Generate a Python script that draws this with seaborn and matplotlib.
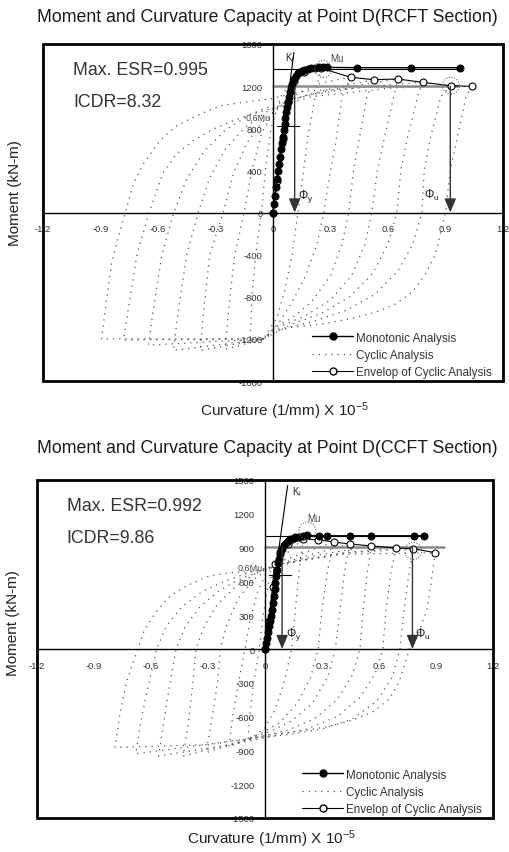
import matplotlib
matplotlib.use("Agg")
import matplotlib.pyplot as plt
from matplotlib.lines import Line2D
from matplotlib.patches import Rectangle
import seaborn as sns

# ---------------- RCFT section (top panel) ----------------
rcft_mono_x = [0, 0.005, 0.01, 0.015, 0.02, 0.025, 0.03, 0.035, 0.04, 0.045, 0.05, 0.055, 0.06,
               0.065, 0.07, 0.075, 0.08, 0.085, 0.09, 0.095, 0.10, 0.11, 0.12, 0.13, 0.14, 0.15,
               0.16, 0.18, 0.20, 0.22, 0.24, 0.26, 0.28, 0.44, 0.72, 0.977]
rcft_mono_y = [0, 80, 160, 240, 320, 390, 460, 530, 600, 660, 720, 780, 840, 900, 950, 1000,
               1050, 1100, 1140, 1180, 1220, 1270, 1300, 1320, 1335, 1345, 1352, 1362, 1370,
               1375, 1378, 1379, 1378, 1375, 1375, 1375]
rcft_env_x = [0, 0.02, 0.05, 0.08, 0.11, 0.16, 0.25, 0.405, 0.527, 0.65, 0.78, 0.928, 1.036]
rcft_env_y = [0, 300, 700, 1050, 1250, 1330, 1370, 1284, 1261, 1268, 1236, 1204, 1198]
rcft_cyc_x = [
    [0.25, 0.22, 0.18, 0.16, 0.13, 0.10, 0.06, 0.02, -0.05, -0.12,
     -0.11, -0.09, -0.06, -0.04, -0.01, 0.04, 0.12, 0.25],
    [0.405, 0.36, 0.33, 0.30, 0.265, 0.23, 0.17, 0.10, 0.03, -0.05, -0.25,
     -0.23, -0.20, -0.15, -0.11, -0.06, 0.0, 0.1, 0.25, 0.405],
    [0.527, 0.49, 0.45, 0.42, 0.395, 0.36, 0.30, 0.20, 0.10, 0.02, -0.05, -0.38,
     -0.36, -0.33, -0.26, -0.21, -0.14, -0.06, 0.02, 0.15, 0.35, 0.527],
    [0.65, 0.63, 0.58, 0.545, 0.515, 0.48, 0.41, 0.30, 0.17, 0.05, -0.05, -0.52,
     -0.494, -0.45, -0.39, -0.33, -0.25, -0.15, -0.04, 0.1, 0.35, 0.65],
    [0.78, 0.754, 0.70, 0.667, 0.646, 0.60, 0.52, 0.40, 0.25, 0.10, -0.05, -0.65,
     -0.625, -0.58, -0.517, -0.45, -0.36, -0.25, -0.12, 0.0, 0.2, 0.5, 0.78],
    [0.928, 0.876, 0.82, 0.789, 0.777, 0.73, 0.65, 0.53, 0.38, 0.20, 0.05, -0.05, -0.78,
     -0.756, -0.71, -0.646, -0.573, -0.503, -0.416, -0.311, -0.207, -0.102, 0.0, 0.2, 0.6, 0.928],
    [1.036, 1.007, 0.96, 0.925, 0.90, 0.848, 0.796, 0.726, 0.639, 0.534, 0.40, 0.25, 0.10, 0.0,
     -0.05, -0.895, -0.869, -0.843, -0.808, -0.773, -0.729, -0.677, -0.59, -0.503, -0.398,
     -0.276, -0.154, -0.015, 0.15, 0.5, 1.036],
]
rcft_cyc_y = [
    [1370, 1100, 700, 400, 0, -400, -750, -1000, -1200, -1250,
     -800, -400, 0, 400, 800, 1100, 1300, 1370],
    [1285, 1100, 700, 400, 0, -300, -600, -850, -1050, -1200, -1300,
     -900, -400, 0, 400, 750, 950, 1100, 1230, 1285],
    [1260, 1100, 700, 400, 0, -300, -600, -850, -1000, -1080, -1200, -1310,
     -900, -400, 0, 350, 650, 850, 980, 1100, 1200, 1260],
    [1268, 1100, 700, 400, 0, -300, -600, -830, -980, -1070, -1200, -1310,
     -930, -400, 0, 330, 600, 800, 950, 1080, 1180, 1268],
    [1236, 1100, 700, 400, 0, -300, -580, -800, -960, -1060, -1200, -1260,
     -930, -400, 0, 320, 580, 780, 930, 1020, 1120, 1200, 1236],
    [1204, 1100, 700, 400, 0, -300, -560, -780, -930, -1040, -1100, -1200, -1210,
     -930, -400, 0, 381, 556, 682, 793, 872, 940, 990, 1100, 1180, 1204],
    [1198, 1100, 700, 400, 0, -394, -584, -758, -869, -948, -1010, -1060, -1090, -1130,
     -1200, -1200, -837, -489, -236, -14, 270, 460, 682, 824, 919, 1014, 1046, 1078,
     1150, 1190, 1198],
]
rcft_ki_x = [0.0, 0.109]
rcft_ki_y = [0, 1520]
rcft_mu_line = 1365
rcft_my_line = 1200
rcft_line_end = 0.97
rcft_06mu = 820
rcft_phi_y = 0.113
rcft_phi_u = 0.925
rcft_mu_circle = (0.262, 1362)
rcft_phiu_circle = (0.928, 1204)
rcft_esr = "Max. ESR=0.995"
rcft_icdr = "ICDR=8.32"
rcft_yticks = [-1600, -1200, -800, -400, 0, 400, 800, 1200, 1600]

# ---------------- CCFT section (bottom panel) ----------------
ccft_mono_x = [0, 0.005, 0.01, 0.015, 0.02, 0.025, 0.03, 0.035, 0.04, 0.045, 0.05, 0.055, 0.06,
               0.065, 0.07, 0.075, 0.08, 0.09, 0.10, 0.11, 0.12, 0.13, 0.14, 0.16, 0.18, 0.20,
               0.22, 0.283, 0.326, 0.447, 0.56, 0.784, 0.836]
ccft_mono_y = [0, 50, 100, 150, 200, 250, 290, 350, 410, 470, 530, 590, 650, 700, 760, 800,
               840, 890, 920, 945, 960, 972, 980, 990, 997, 1003, 1008, 1005, 1005, 1005,
               1005, 1005, 1005]
ccft_env_x = [0, 0.02, 0.04, 0.05, 0.08, 0.12, 0.20, 0.28, 0.361, 0.447, 0.56, 0.69, 0.78, 0.896]
ccft_env_y = [0, 250, 550, 754, 860, 930, 975, 970, 950, 932, 915, 896, 890, 855]
ccft_cyc_x = [
    [0.2, 0.18, 0.16, 0.14, 0.10, 0.05, 0.0, -0.05, -0.09,
     -0.08, -0.06, -0.03, -0.01, 0.02, 0.08, 0.2],
    [0.361, 0.33, 0.30, 0.28, 0.24, 0.17, 0.08, 0.0, -0.08, -0.19,
     -0.17, -0.14, -0.105, -0.08, -0.04, 0.0, 0.1, 0.2, 0.361],
    [0.447, 0.42, 0.395, 0.37, 0.33, 0.25, 0.14, 0.03, -0.1, -0.31,
     -0.278, -0.25, -0.235, -0.2, -0.14, -0.06, 0.05, 0.2, 0.447],
    [0.56, 0.54, 0.517, 0.50, 0.46, 0.38, 0.26, 0.12, 0.0, -0.15, -0.43,
     -0.399, -0.38, -0.364, -0.32, -0.25, -0.15, -0.04, 0.1, 0.3, 0.56],
    [0.69, 0.665, 0.637, 0.62, 0.58, 0.50, 0.38, 0.22, 0.05, -0.15, -0.56,
     -0.528, -0.50, -0.468, -0.42, -0.34, -0.24, -0.12, 0.0, 0.2, 0.45, 0.69],
    [0.78, 0.76, 0.732, 0.71, 0.67, 0.59, 0.46, 0.30, 0.12, -0.05, -0.68,
     -0.649, -0.61, -0.57, -0.52, -0.44, -0.33, -0.2, -0.08, 0.1, 0.4, 0.78],
    [0.896, 0.875, 0.853, 0.80, 0.76, 0.739, 0.705, 0.653, 0.566, 0.463, 0.325, 0.187, 0.048,
     -0.1, -0.3, -0.79, -0.765, -0.73, -0.67, -0.636, -0.575, -0.497, -0.411, -0.29, -0.169,
     -0.048, 0.1, 0.4, 0.896],
]
ccft_cyc_y = [
    [975, 700, 350, 0, -300, -550, -700, -760, -820,
     -600, -300, 0, 300, 600, 800, 975],
    [950, 700, 355, 0, -250, -480, -650, -730, -790, -870,
     -600, -300, 0, 250, 500, 650, 790, 850, 950],
    [932, 700, 355, 0, -250, -480, -640, -730, -810, -920,
     -600, -300, 0, 220, 450, 620, 740, 820, 932],
    [915, 700, 355, 0, -230, -450, -620, -720, -770, -830, -950,
     -600, -300, 0, 200, 400, 560, 680, 760, 840, 915],
    [896, 700, 355, 0, -220, -430, -600, -710, -770, -840, -950,
     -600, -300, 0, 200, 380, 520, 630, 700, 790, 860, 896],
    [890, 700, 355, 0, -250, -460, -620, -710, -760, -790, -930,
     -600, -300, 0, 200, 370, 510, 610, 680, 760, 850, 890],
    [855, 600, 355, 100, 0, -118, -296, -444, -560, -630, -690, -730, -755,
     -800, -850, -873, -592, -296, 0, 162, 326, 473, 562, 651, 680, 690, 760, 840, 855],
]
ccft_ki_x = [0.0, 0.119]
ccft_ki_y = [0, 1450]
ccft_mu_line = 1000
ccft_my_line = 903
ccft_line_end = 0.85
ccft_my_end = 0.94
ccft_06mu = 660
ccft_phi_y = 0.09
ccft_phi_u = 0.776
ccft_mu_circle = (0.223, 1050)
ccft_phiu_circle = (0.78, 870)
ccft_esr = "Max. ESR=0.992"
ccft_icdr = "ICDR=9.86"
ccft_yticks = [-1500, -1200, -900, -600, -300, 0, 300, 600, 900, 1200, 1500]

xticks = [-1.2, -0.9, -0.6, -0.3, 0, 0.3, 0.6, 0.9, 1.2]
xtick_labels = ["-1.2", "-0.9", "-0.6", "-0.3", "0", "0.3", "0.6", "0.9", "1.2"]

sns.set_style("white")
plt.rcParams["font.family"] = ["Liberation Sans", "DejaVu Sans"]
plt.rcParams["mathtext.fontset"] = "custom"
plt.rcParams["mathtext.rm"] = "Liberation Sans"
plt.rcParams["mathtext.it"] = "Liberation Sans"
plt.rcParams["mathtext.default"] = "regular"

CYC_COLOR = "#555555"
TXT = "#222222"


def draw_panel(ax, mono_x, mono_y, env_x, env_y, cyc_x, cyc_y, ki_x, ki_y,
               mu_line, my_line, line_end, my_end, m06, m06_lbl_y, phi_y, phi_u,
               mu_circle, phiu_circle, esr, icdr, yticks, ylim, xlim,
               ki_lbl, mu_lbl, phiy_lbl, phiu_lbl, ylab_pos, xlab_pos):
    # cyclic hysteresis loops (dotted)
    for lx, ly in zip(cyc_x, cyc_y):
        sns.lineplot(x=lx, y=ly, sort=False, estimator=None, ax=ax, color=CYC_COLOR,
                     lw=0.9, linestyle=(0, (1, 4)), zorder=1)

    # idealised lines
    ax.plot([0, my_end], [my_line, my_line], color="#8a8a8a", lw=1.8, zorder=2)
    ax.plot([0, line_end], [mu_line, mu_line], color="black", lw=0.8, zorder=2)
    ax.plot(ki_x, ki_y, color="black", lw=0.8, zorder=4)
    ax.plot([0.02, 0.135], [m06, m06], color="black", lw=0.8, zorder=4)

    # envelope and monotonic curves
    sns.lineplot(x=env_x, y=env_y, sort=False, estimator=None, ax=ax, color="black",
                 lw=0.8, marker="o", markersize=5, markerfacecolor="white",
                 markeredgecolor="black", markeredgewidth=0.8, zorder=3)
    sns.lineplot(x=mono_x, y=mono_y, sort=False, estimator=None, ax=ax, color="black",
                 lw=1.0, marker="o", markersize=5, markerfacecolor="black",
                 markeredgecolor="black", zorder=5)

    # dotted circles around Mu and phi_u points
    ax.scatter([mu_circle[0], phiu_circle[0]], [mu_circle[1], phiu_circle[1]], s=150,
               facecolors="none", edgecolors="#666666", linewidths=0.8,
               linestyle=(0, (1, 1.5)), zorder=6)

    # curvature arrows
    for px in (phi_y, phi_u):
        ax.annotate("", xy=(px, 0), xytext=(px, my_line),
                    arrowprops=dict(arrowstyle="-|>,head_length=0.6,head_width=0.25",
                                    color="#333333", lw=1.0, mutation_scale=14,
                                    shrinkA=0, shrinkB=0), zorder=6)

    ax.text(ki_lbl[0], ki_lbl[1], r"$K_i$", fontsize=7, color=TXT, ha="left", va="center")
    ax.text(mu_lbl[0], mu_lbl[1], "Mu", fontsize=7, color="#444444", ha="left", va="center")
    ax.text(-0.01, m06_lbl_y, "0.6Mu", fontsize=6.5, color="#444444", ha="right", va="center")
    ax.text(phiy_lbl[0], phiy_lbl[1], r"$\Phi_y$", fontsize=8.5, color=TXT, ha="left", va="center")
    ax.text(phiu_lbl[0], phiu_lbl[1], r"$\Phi_u$", fontsize=8.5, color=TXT, ha="left", va="center")

    ax.text(0.065, 0.925, esr, transform=ax.transAxes, fontsize=12.8, color="#333333",
            ha="left", va="center")
    ax.text(0.065, 0.83, icdr, transform=ax.transAxes, fontsize=12.8, color="#333333",
            ha="left", va="center")

    # axes through the origin, thick outer frame
    ax.set_xlim(*xlim)
    ax.set_ylim(*ylim)
    for s in ("top", "right"):
        ax.spines[s].set_visible(False)
    ax.spines["left"].set_position(("data", 0))
    ax.spines["bottom"].set_position(("data", 0))
    for s in ("left", "bottom"):
        ax.spines[s].set_color("black")
        ax.spines[s].set_linewidth(1.0)
    ax.add_patch(Rectangle((0, 0), 1, 1, transform=ax.transAxes, fill=False,
                           edgecolor="black", lw=2.0, clip_on=False, zorder=10))
    ax.set_xticks(xticks)
    ax.set_xticklabels(xtick_labels)
    ax.set_yticks(yticks)
    ax.set_yticklabels([str(v) for v in yticks])
    ax.tick_params(axis="both", direction="inout", length=3, width=0.8,
                   labelsize=6.8, labelcolor="#333333", colors="#333333")
    ax.tick_params(axis="x", pad=7)
    ax.tick_params(axis="y", pad=6)
    for lbl in ax.get_xticklabels() + ax.get_yticklabels():
        lbl.set_zorder(7)

    ax.set_ylabel("Moment (kN-m)", fontsize=11, color=TXT)
    ax.yaxis.set_label_coords(*ylab_pos)
    ax.set_xlabel(r"Curvature (1/mm) X 10$^{-5}$", fontsize=11, color=TXT)
    ax.xaxis.set_label_coords(*xlab_pos)

    handles = [
        Line2D([], [], color="black", lw=1.0, marker="o", markersize=5),
        Line2D([], [], color=CYC_COLOR, lw=0.9, linestyle=(0, (1, 4))),
        Line2D([], [], color="black", lw=0.8, marker="o", markersize=5,
               markerfacecolor="white"),
    ]
    labels = ["Monotonic Analysis", "Cyclic Analysis", "Envelop of Cyclic Analysis"]
    leg = ax.legend(handles, labels, loc="lower right", bbox_to_anchor=(0.985, -0.005),
                    frameon=False, fontsize=8.4, handlelength=3.5, handletextpad=0.2,
                    labelspacing=0.45, borderaxespad=0.0)
    for t in leg.get_texts():
        t.set_color("#333333")


fig = plt.figure(figsize=(5.09, 8.53), dpi=100)
ax1 = fig.add_axes([43 / 509, 1 - 382 / 853, 460 / 509, 337 / 853])
ax2 = fig.add_axes([37 / 509, 1 - 819 / 853, 456 / 509, 338 / 853])

draw_panel(ax1, rcft_mono_x, rcft_mono_y, rcft_env_x, rcft_env_y, rcft_cyc_x, rcft_cyc_y,
           rcft_ki_x, rcft_ki_y, rcft_mu_line, rcft_my_line, rcft_line_end, 0.96,
           rcft_06mu, 900, rcft_phi_y, rcft_phi_u, rcft_mu_circle, rcft_phiu_circle,
           rcft_esr, rcft_icdr, rcft_yticks, (-1600, 1600), (-1.2, 1.2),
           (0.065, 1475), (0.30, 1467), (0.128, 160), (0.79, 175),
           (-0.046, 0.56), (0.525, -0.056))

draw_panel(ax2, ccft_mono_x, ccft_mono_y, ccft_env_x, ccft_env_y, ccft_cyc_x, ccft_cyc_y,
           ccft_ki_x, ccft_ki_y, ccft_mu_line, ccft_my_line, ccft_line_end, ccft_my_end,
           ccft_06mu, 720, ccft_phi_y, ccft_phi_u, ccft_mu_circle, ccft_phiu_circle,
           ccft_esr, ccft_icdr, ccft_yticks, (-1500, 1500), (-1.165, 1.2),
           (0.14, 1405), (0.22, 1160), (0.11, 140), (0.79, 140),
           (-0.037, 0.58), (0.515, -0.027))

fig.text(0.525, 0.980, "Moment and Curvature Capacity at Point D(RCFT Section)",
         ha="center", va="center", fontsize=12.8, color="#1a1a1a")
fig.text(0.525, 0.474, "Moment and Curvature Capacity at Point D(CCFT Section)",
         ha="center", va="center", fontsize=12.8, color="#1a1a1a")

fig.savefig("out.png", dpi=100)
